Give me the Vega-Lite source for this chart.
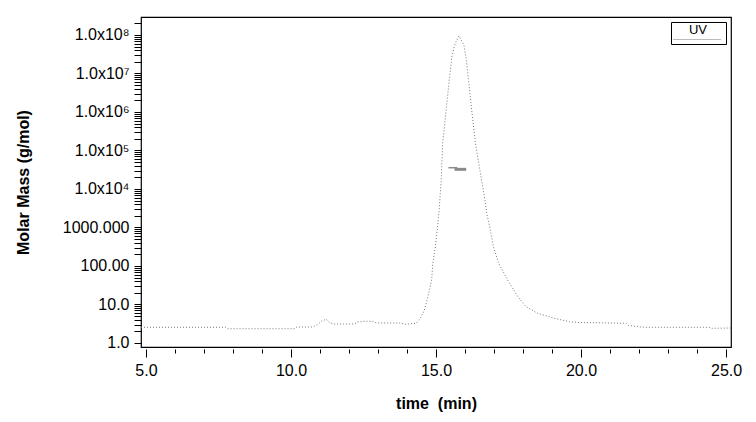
{
  "$schema": "https://vega.github.io/schema/vega-lite/v6.json",
  "width": 590,
  "height": 330,
  "autosize": "none",
  "padding": {"left": 141, "top": 17, "right": 25, "bottom": 75},
  "background": "white",
  "config": {
    "font": "Liberation Sans",
    "view": {"stroke": "black", "strokeWidth": 1.2},
    "axis": {"labelColor": "black", "titleColor": "black", "tickColor": "black", "grid": false, "labelFontSize": 16, "titleFontSize": 16, "titleFontWeight": "bold"}
  },
  "datasets": {
    "uv": [
      {"t": 4.83, "v": 2.56}, {"t": 7.75, "v": 2.56}, {"t": 7.82, "v": 2.35}, {"t": 10.13, "v": 2.35},
      {"t": 10.20, "v": 2.60}, {"t": 10.75, "v": 2.60}, {"t": 10.92, "v": 3.02}, {"t": 11.06, "v": 3.73},
      {"t": 11.22, "v": 4.13}, {"t": 11.33, "v": 3.41}, {"t": 11.47, "v": 3.12}, {"t": 12.19, "v": 3.12},
      {"t": 12.30, "v": 3.51}, {"t": 12.54, "v": 3.66}, {"t": 12.81, "v": 3.66}, {"t": 12.95, "v": 3.31},
      {"t": 13.74, "v": 3.31}, {"t": 13.98, "v": 3.06}, {"t": 14.19, "v": 3.21}, {"t": 14.32, "v": 3.25},
      {"t": 14.49, "v": 4.82}, {"t": 14.60, "v": 7.2}, {"t": 14.72, "v": 15.9}, {"t": 14.85, "v": 43.3},
      {"t": 14.89, "v": 117}, {"t": 14.98, "v": 317}, {"t": 15.10, "v": 2339}, {"t": 15.18, "v": 17140},
      {"t": 15.23, "v": 154000}, {"t": 15.35, "v": 1130000}, {"t": 15.44, "v": 5030000}, {"t": 15.54, "v": 24800000},
      {"t": 15.64, "v": 55000000}, {"t": 15.79, "v": 94200000}, {"t": 15.96, "v": 55000000}, {"t": 16.04, "v": 24800000},
      {"t": 16.14, "v": 5030000}, {"t": 16.23, "v": 1130000}, {"t": 16.36, "v": 154000}, {"t": 16.57, "v": 17140},
      {"t": 16.67, "v": 6310}, {"t": 16.75, "v": 2339}, {"t": 16.87, "v": 861}, {"t": 16.98, "v": 317},
      {"t": 17.16, "v": 117}, {"t": 17.47, "v": 43.3}, {"t": 17.82, "v": 15.9}, {"t": 18.11, "v": 8.77},
      {"t": 18.50, "v": 5.91}, {"t": 19.08, "v": 4.38}, {"t": 19.60, "v": 3.57}, {"t": 19.94, "v": 3.41},
      {"t": 21.56, "v": 3.25}, {"t": 21.63, "v": 2.85}, {"t": 22.18, "v": 2.56}, {"t": 24.41, "v": 2.56},
      {"t": 24.51, "v": 2.41}, {"t": 25.17, "v": 2.45}
    ],
    "mm1": [{"t": 15.43, "m": 35700}, {"t": 15.73, "m": 35700}],
    "mm2": [{"t": 15.64, "m": 32400}, {"t": 16.04, "m": 32400}]
  },
  "resolve": {"axis": {"x": "independent"}},
  "layer": [
    {
      "data": {"name": "uv"},
      "mark": {"type": "line", "strokeDash": [1, 2], "strokeWidth": 1, "clip": true},
      "encoding": {
        "x": {"field": "t", "type": "quantitative",
          "scale": {"domain": [4.83, 25.17], "nice": false, "zero": false},
          "axis": {"orient": "bottom", "values": [5, 10, 15, 20, 25], "format": ".1f", "tickSize": 8, "offset": 2, "domain": false, "labelPadding": 5, "title": "time \u00a0(min)", "titlePadding": 17}},
        "y": {"field": "v", "type": "quantitative",
          "scale": {"type": "log", "domain": [0.787, 293000000], "nice": false},
          "axis": {
            "values": [1,2,3,4,5,6,7,8,9,10,20,30,40,50,60,70,80,90,100,200,300,400,500,600,700,800,900,1000,2000,3000,4000,5000,6000,7000,8000,9000,10000,20000,30000,40000,50000,60000,70000,80000,90000,100000,200000,300000,400000,500000,600000,700000,800000,900000,1000000,2000000,3000000,4000000,5000000,6000000,7000000,8000000,9000000,10000000,20000000,30000000,40000000,50000000,60000000,70000000,80000000,90000000,100000000,200000000],
            "labelExpr": "datum.value == 1 ? '1.0' : datum.value == 10 ? '10.0' : datum.value == 100 ? '100.00' : datum.value == 1000 ? '1000.000' : datum.value == 10000 ? '1.0x10⁴' : datum.value == 100000 ? '1.0x10⁵' : datum.value == 1000000 ? '1.0x10⁶' : datum.value == 10000000 ? '1.0x10⁷' : datum.value == 100000000 ? '1.0x10⁸' : ''",
            "tickSize": 7, "domain": false, "labelPadding": 5, "labelBaseline": "middle",
            "title": "Molar Mass (g/mol)", "titlePadding": 31}},
        "color": {"datum": "UV", "type": "nominal",
          "scale": {"range": ["#777777"]},
          "legend": {"title": "UV", "orient": "top-right", "offset": 5, "strokeColor": "black", "fillColor": "white", "padding": 2,
            "titleFontSize": 13, "titleFontWeight": "normal", "titleColor": "black", "titleAlign": "center", "titleAnchor": "middle", "titlePadding": 0,
            "symbolType": "M-1,0H23", "symbolSize": 16, "symbolStrokeWidth": 1, "symbolDash": [1, 1], "symbolStrokeColor": "#555555",
            "labelExpr": "''", "labelFontSize": 1, "labelOffset": 41}}
      }
    },
    {
      "data": {"name": "mm1"},
      "mark": {"type": "line", "color": "#8a8a8a", "strokeWidth": 1.5, "clip": true},
      "encoding": {
        "x": {"field": "t", "type": "quantitative",
          "axis": {"orient": "bottom", "values": [6,7,8,9,11,12,13,14,16,17,18,19,21,22,23,24], "labels": false, "tickSize": 4, "offset": 2, "domain": false, "title": null}},
        "y": {"field": "m", "type": "quantitative"}
      }
    },
    {
      "data": {"name": "mm2"},
      "mark": {"type": "line", "color": "#8a8a8a", "strokeWidth": 3, "clip": true},
      "encoding": {
        "x": {"field": "t", "type": "quantitative", "axis": null},
        "y": {"field": "m", "type": "quantitative"}
      }
    }
  ]
}
